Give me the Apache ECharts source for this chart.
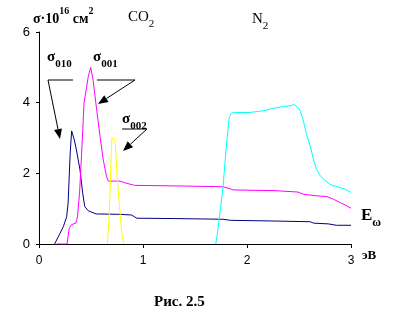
<!DOCTYPE html>
<html>
<head>
<meta charset="utf-8">
<script src="https://cdn.jsdelivr.net/npm/echarts@6/dist/echarts.min.js"></script>
<style>
html,body{margin:0;padding:0;background:#fff;}
#chart{width:414px;height:323px;}
</style>
</head>
<body>
<div id="chart"></div>
<script>
// ---- data ----
var xTicks = [0, 1, 2, 3];
var yTicks = [0, 2, 4, 6];

var s010X = [0.15,0.234,0.266,0.28,0.30,0.314,0.34,0.36,0.394,0.42,0.44,0.474,0.49,0.55,0.57,0.78,0.89,0.94,1.29,1.55,1.77,1.84,2.27,2.61,2.64,2.78,2.86,3.0];
var s010Y = [0,0.49,0.77,1.16,2.57,3.2,2.94,2.66,2.1,1.44,1.06,0.94,0.99,0.85,0.85,0.84,0.82,0.73,0.72,0.71,0.70,0.67,0.65,0.63,0.59,0.57,0.53,0.53];

var s001X = [0.17,0.27,0.29,0.31,0.356,0.37,0.39,0.41,0.433,0.474,0.497,0.52,0.555,0.587,0.618,0.65,0.667,0.78,0.84,0.92,1.40,1.77,1.84,1.87,2.27,2.49,2.54,2.65,2.77,2.83,2.89,2.96,3.0];
var s001Y = [0,0,0.44,0.54,0.6,0.77,1.44,2.57,3.99,4.74,5.0,4.64,3.79,3.04,2.38,1.9,1.78,1.78,1.72,1.66,1.64,1.62,1.56,1.53,1.51,1.47,1.41,1.37,1.34,1.27,1.18,1.08,1.01];

var s002X = [0.657,0.676,0.69,0.70,0.72,0.734,0.747,0.766,0.785,0.80,0.817];
var s002Y = [0,0.87,2.1,2.99,2.99,2.85,2.1,1.34,0.68,0.21,0];

var n2X = [1.70,1.72,1.77,1.79,1.81,1.83,1.85,1.87,2.01,2.11,2.19,2.25,2.35,2.43,2.45,2.48,2.51,2.54,2.57,2.61,2.64,2.67,2.70,2.75,2.81,2.89,2.96,3.0];
var n2Y = [0,0.4,1.62,2.38,3.04,3.6,3.70,3.72,3.72,3.75,3.79,3.84,3.89,3.92,3.95,3.89,3.79,3.51,3.13,2.75,2.38,2.1,1.95,1.79,1.67,1.60,1.53,1.46];

function pairs(xs, ys){ return xs.map(function(x,i){return [x, ys[i]];}); }

function arrow(x1,y1,x2,y2){
  var dx=x2-x1, dy=y2-y1, L=Math.sqrt(dx*dx+dy*dy);
  var ux=dx/L, uy=dy/L, h=10, w=4;
  var bx=x2-ux*h, by=y2-uy*h;
  return [
    {type:'line', shape:{x1:x1,y1:y1,x2:bx,y2:by}, style:{stroke:'#000',lineWidth:1}},
    {type:'polygon', shape:{points:[[x2,y2],[bx-uy*w,by+ux*w],[bx+uy*w,by-ux*w]]}, style:{fill:'#000'}}
  ];
}

var serif = '"Liberation Serif", "Times New Roman", serif';
var sans = '"Liberation Sans", Arial, sans-serif';

var graphics = [];
// title
graphics.push({type:'text', left:33, top:6, style:{
  text:'{a|σ·10}{s|16}{a| см}{s|2}', font:'bold 14px '+serif,
  rich:{a:{fontFamily:serif,fontWeight:'bold',fontSize:14,fill:'#000',verticalAlign:'bottom',height:18},
        s:{fontFamily:serif,fontWeight:'bold',fontSize:10,fill:'#000',verticalAlign:'top',height:18,padding:[0,0,8,0]}}
}});
function chem(x,y,main,sub,bold,size){
  graphics.push({type:'text', left:x, top:y, style:{
    text:'{a|'+main+'}{b|'+sub+'}',
    rich:{a:{fontFamily:serif,fontWeight:bold?'bold':'normal',fontSize:size,fill:'#000',height:size+6,verticalAlign:'top'},
          b:{fontFamily:serif,fontWeight:bold?'bold':'normal',fontSize:Math.round(size*0.7),fill:'#000',height:size+6,verticalAlign:'bottom',padding:[size*0.45,0,0,0]}}
  }});
}
chem(128,10,'CO','2',false,15);
chem(252,12,'N','2',false,15);
chem(47,50,'σ','010',true,15);
chem(93,50,'σ','001',true,15);
chem(122,112,'σ','002',true,15);
chem(361,207,'E','ω',true,17);
graphics.push({type:'text', left:362, top:249, style:{text:'эВ', font:'bold 13px '+serif, fill:'#000'}});
graphics.push({type:'text', left:154, top:295, style:{text:'Рис. 2.5', font:'bold 15px '+serif, fill:'#000'}});
// horizontal bars
graphics.push({type:'line', shape:{x1:48,y1:80,x2:73,y2:80}, style:{stroke:'#000',lineWidth:1}});
graphics.push({type:'line', shape:{x1:97,y1:80,x2:135,y2:80}, style:{stroke:'#000',lineWidth:1}});
graphics.push({type:'line', shape:{x1:122,y1:129,x2:147,y2:129}, style:{stroke:'#000',lineWidth:1}});
graphics = graphics.concat(arrow(48,80,60,139));
graphics = graphics.concat(arrow(135,80,98,104));
graphics = graphics.concat(arrow(147,129,123,151));

function line(name, xs, ys, color){
  return {name:name, type:'line', data:pairs(xs,ys), showSymbol:false, symbol:'none',
    lineStyle:{color:color, width:1}, itemStyle:{color:color}, animation:false, z:3};
}

var chart = echarts.init(document.getElementById('chart'), null, {renderer:'canvas'});
chart.setOption({
  backgroundColor:'#fff',
  animation:false,
  grid:{left:39, right:63, top:32, bottom:79, containLabel:false},
  xAxis:{type:'value', min:xTicks[0], max:xTicks[xTicks.length-1], interval:1,
    axisLine:{lineStyle:{color:'#000',width:1}},
    axisTick:{show:true, length:4, lineStyle:{color:'#000'}},
    splitLine:{show:false},
    axisLabel:{color:'#000', fontFamily:sans, fontSize:12, margin:11}},
  yAxis:{type:'value', min:yTicks[0], max:yTicks[yTicks.length-1], interval:2,
    axisLine:{show:true, lineStyle:{color:'#000',width:1}},
    axisTick:{show:true, length:3, lineStyle:{color:'#000'}},
    splitLine:{show:false},
    axisLabel:{color:'#000', fontFamily:sans, fontSize:13, margin:9}},
  series:[
    line('σ010', s010X, s010Y, '#000080'),
    line('σ001', s001X, s001Y, '#FF00FF'),
    line('σ002', s002X, s002Y, '#FFFF00'),
    line('N2', n2X, n2Y, '#00FFFF')
  ],
  graphic:graphics
});
</script>
</body>
</html>
